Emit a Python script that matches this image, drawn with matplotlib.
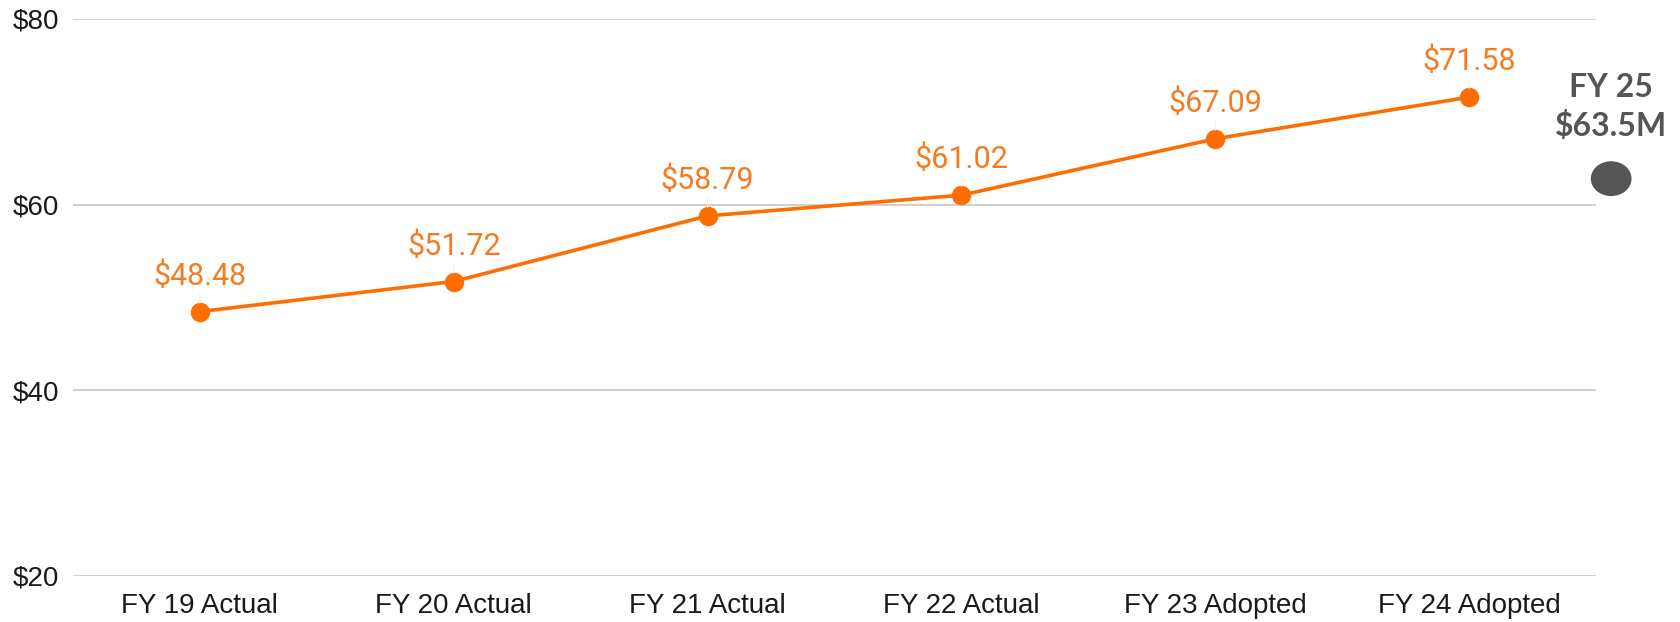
import matplotlib.pyplot as plt
from matplotlib.patches import Ellipse

categories = ["FY 19 Actual", "FY 20 Actual", "FY 21 Actual", "FY 22 Actual",
              "FY 23 Adopted", "FY 24 Adopted"]
values = [48.48, 51.72, 58.79, 61.02, 67.09, 71.58]
yticks = [20, 40, 60, 80]
fy25_value = 63.5  # shown as a grey dot beside the plot

orange = "#FF6D00"
label_orange = "#F47B20"
grey = "#555555"

fig = plt.figure(figsize=(16.81, 6.22), dpi=100)
ax = fig.add_axes([0.0434, 0.074, 0.906, 0.8955])

x = list(range(len(categories)))
ax.plot(x, values, color=orange, lw=2.6, marker="o", markersize=13, zorder=3)

for xi, v in zip(x, values):
    # faint leader line and the value label
    ax.annotate(f"${v:.2f}", xy=(xi, v), xytext=(0, 15), textcoords="offset points",
                ha="center", va="bottom", fontsize=22, color=label_orange,
                family="Roboto",
                arrowprops=dict(arrowstyle="-", color="#eeeeee", lw=0.7,
                                shrinkA=0, shrinkB=6))

ax.set_xlim(-0.5, len(categories) - 0.5)
ax.set_ylim(20, 80)
ax.set_yticks(yticks)
ax.set_yticklabels([f"${t}" for t in yticks], family="Liberation Sans", fontsize=20)
ax.set_xticks(x)
ax.set_xticklabels(categories, family="Liberation Sans", fontsize=20)
ax.tick_params(axis="y", length=0, pad=10, colors="#1a1a1a")
ax.tick_params(axis="x", length=0, pad=12, colors="#1a1a1a")
ax.grid(axis="y", color="#cccccc", lw=1.3)
ax.set_axisbelow(True)
for s in ax.spines.values():
    s.set_visible(False)

# FY 25 marker outside the plotting area
ex = 5.56
ax.add_patch(Ellipse((ex, 62.8), width=0.155, height=3.6, color=grey, clip_on=False))
ax.text(ex, 70.5, "FY 25\n$63.5M", ha="center", va="center", fontsize=23,
        color=grey, family="Lato", fontweight="bold", linespacing=1.35, clip_on=False)

fig.savefig("out.png", dpi=100)
